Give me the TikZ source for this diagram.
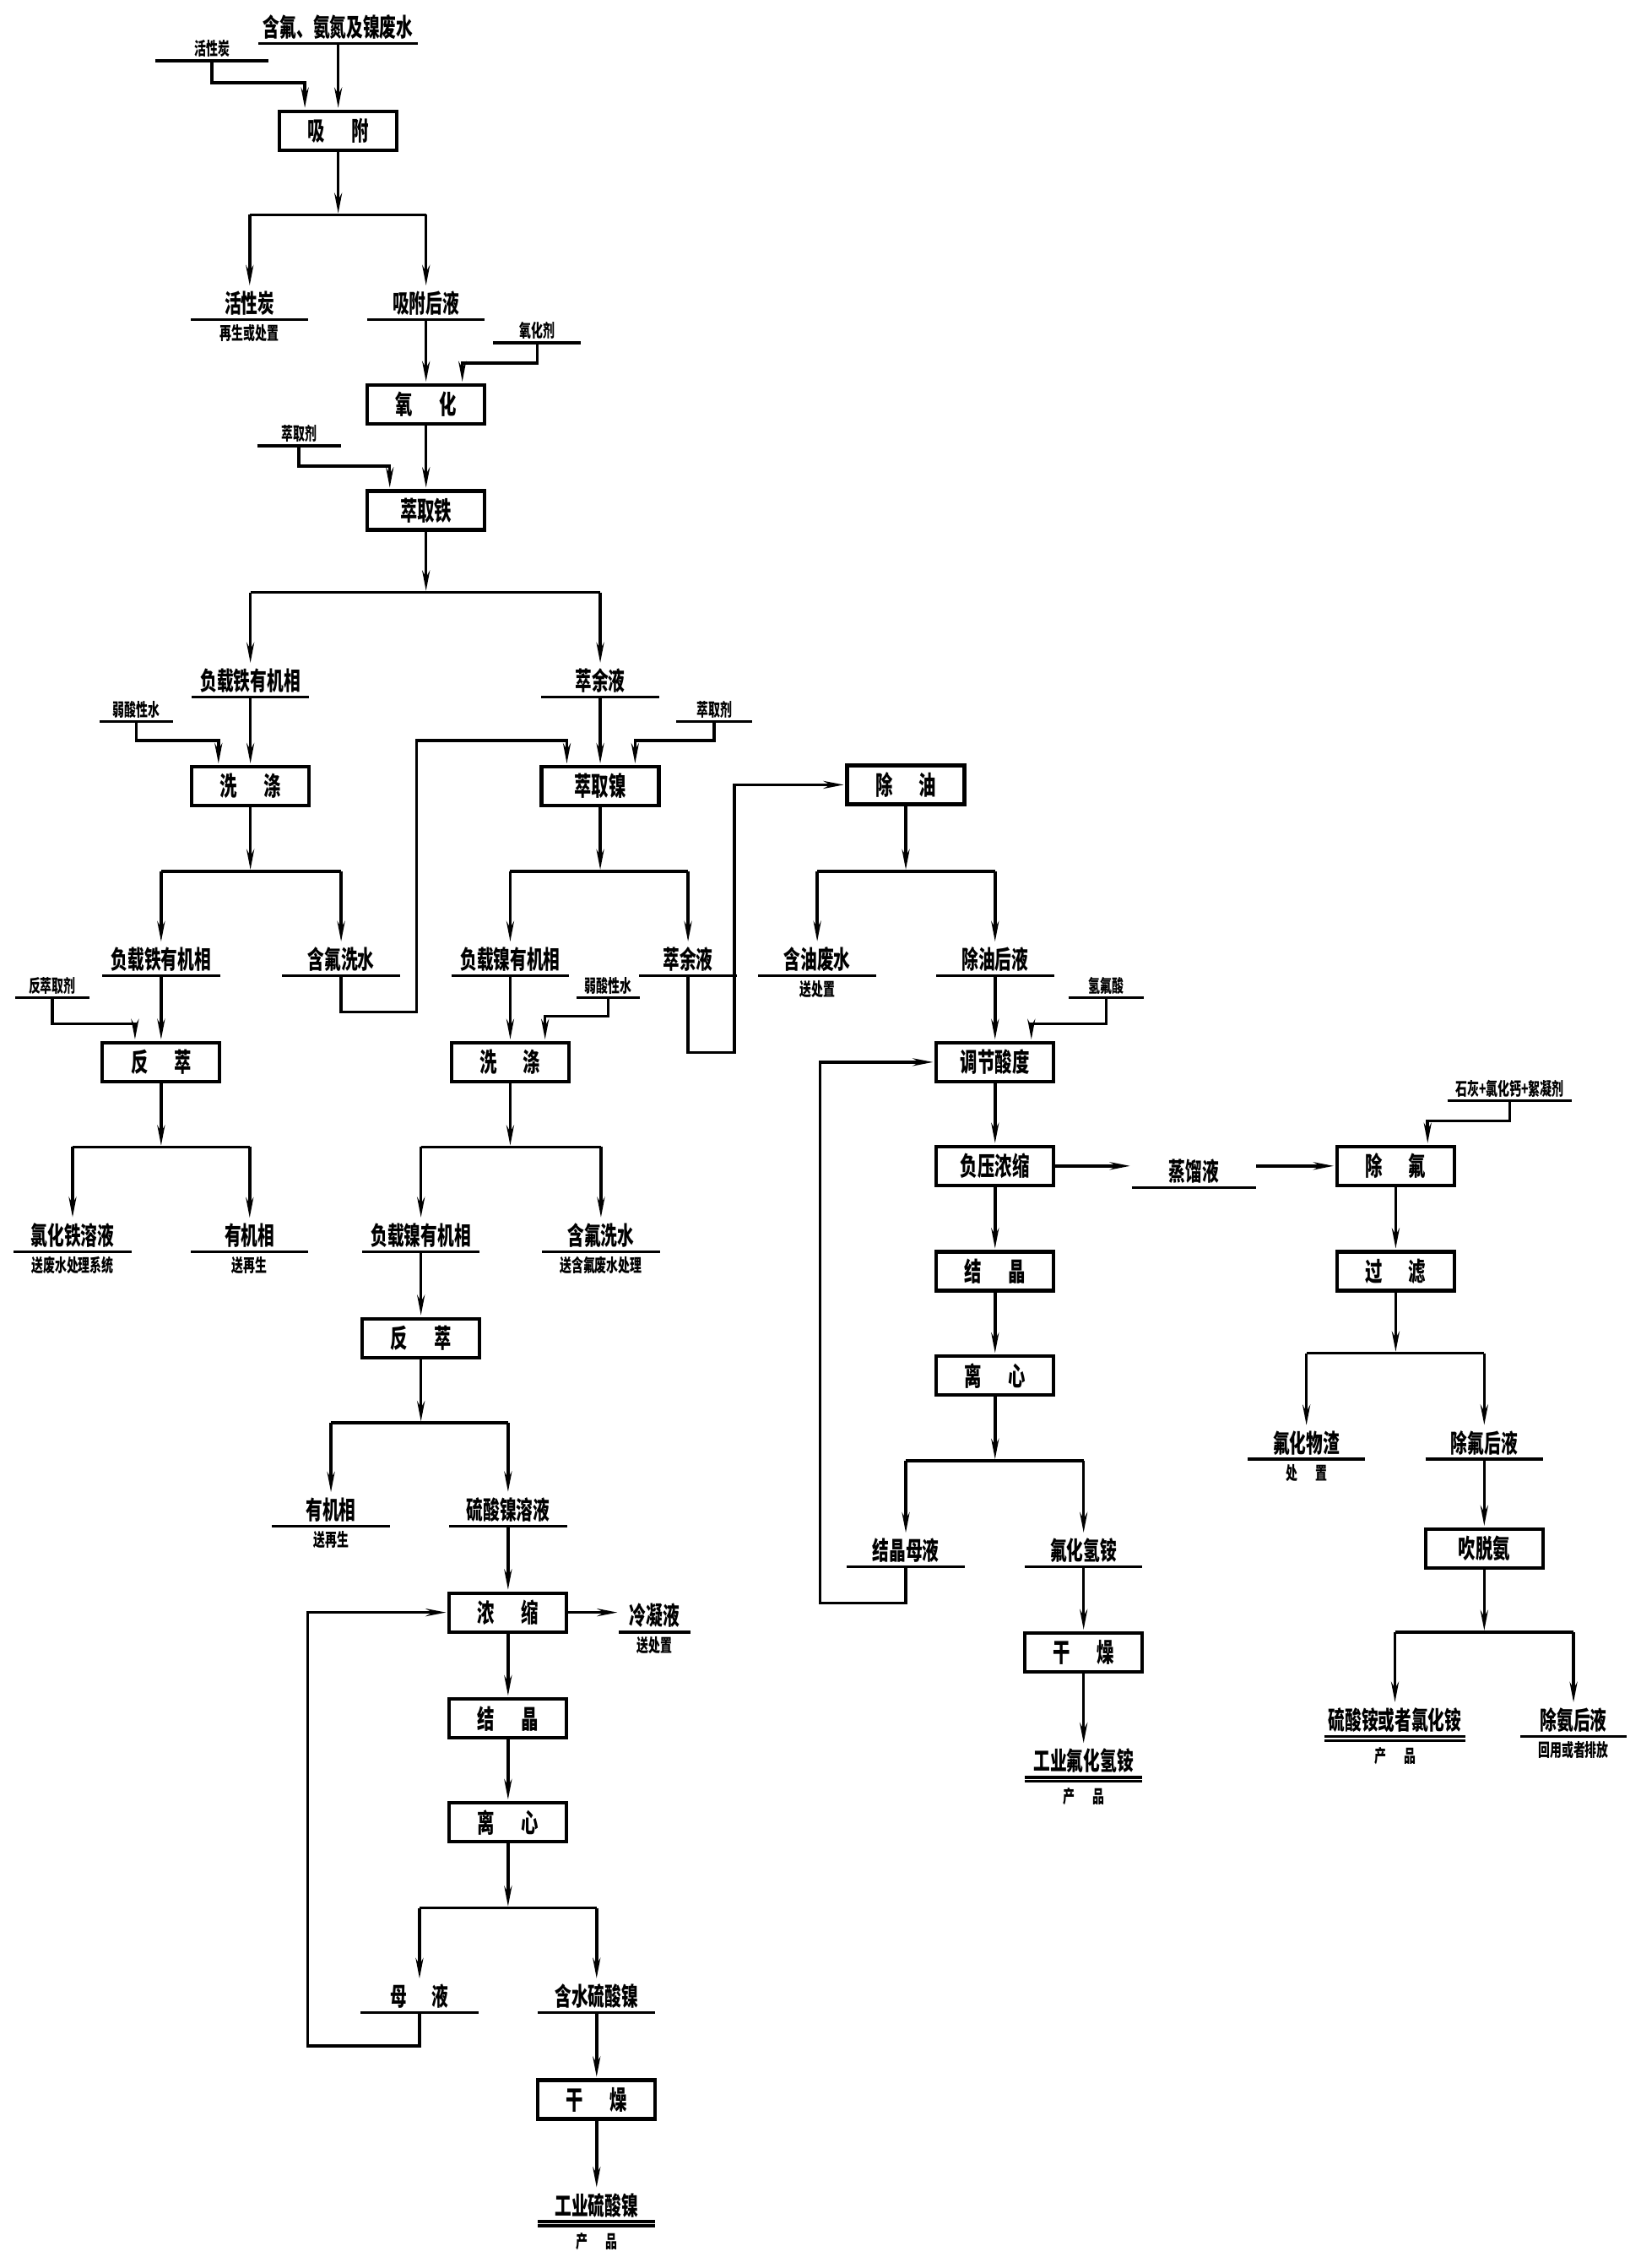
\documentclass[tikz,border=0pt]{standalone}
\usepackage{fontspec}
\setmainfont{Noto Sans CJK SC}[FakeStretch=0.66]
\usetikzlibrary{arrows.meta,positioning,calc}

\begin{document}
\begin{tikzpicture}[x=0.017195cm, y=-0.017195cm]
    % Define styles
    \tikzset{
        proc/.style={
            draw,
            line width=1.2pt,
            minimum width=1.39cm,
            minimum height=0.46cm,
            inner sep=0pt,
            font=\fontsize{8.8}{9}\selectfont\bfseries
        },
        stream/.style={
            anchor=south,
            minimum width=1.38cm,
            inner sep=1.2pt,
            font=\fontsize{8.5}{9}\selectfont\bfseries
        },
        agent/.style={
            anchor=south,
            minimum width=0.88cm,
            inner sep=1pt,
            font=\fontsize{6}{6.5}\selectfont\bfseries
        },
        note/.style={
            inner sep=1pt,
            font=\fontsize{6}{6.5}\selectfont\bfseries
        },
        pipe/.style={line width=1pt},
        arrow/.style={
            -{Stealth[length=2.4mm, width=0.9mm]},
            line width=1pt,
            shorten >=0.5pt
        }
    }
    \useasboundingbox (0,0) rectangle (1130,1562);

    % Adsorption
    \node[stream, minimum width=1.87cm] (feed) at (233,30) {含氟、氨氮及镍废水};
    \node[agent, minimum width=1.32cm] (hxtin) at (146,42) {活性炭};
    \node[proc] (xifu) at (233,90) {吸\quad 附};
    \node[stream] (hxt) at (172,220) {活性炭};
    \node[note, below=0.5pt of hxt] (hxtn) {再生或处置};
    \node[stream] (xfhy) at (293.5,220) {吸附后液};

    \draw[arrow] (feed.south) -- (xifu.north);
    \draw[arrow] (hxtin.south) -- ++(0,15) -| ($(xifu.north)+(-23,0)$);
    \coordinate (xifu-j) at (233,148);
    \draw[arrow] (xifu.south) -- (xifu-j);
    \draw[pipe] (hxt |- xifu-j) -- (xfhy |- xifu-j);
    \draw[arrow] (hxt |- xifu-j) -- (hxt.north);
    \draw[arrow] (xfhy |- xifu-j) -- (xfhy.north);

    % Oxidation and iron extraction
    \node[agent, minimum width=1.03cm] (yhj) at (370,236) {氧化剂};
    \node[proc] (yanghua) at (293.5,278.5) {氧\quad 化};
    \node[agent, minimum width=0.98cm] (cqj1) at (206,307) {萃取剂};
    \node[proc] (cqt) at (293.5,351.5) {萃取铁};
    \node[stream] (fzt1) at (172.5,480) {负载铁有机相};
    \node[stream] (cyy1) at (413.5,480) {萃余液};

    \draw[arrow] (xfhy.south) -- (yanghua.north);
    \draw[arrow] (yhj.south) -- ++(0,14) -| ($(yanghua.north)+(25,0)$);
    \draw[arrow] (yanghua.south) -- (cqt.north);
    \draw[arrow] (cqj1.south) -- ++(0,14) -| ($(cqt.north)+(-25,0)$);
    \coordinate (cqt-j) at (293.5,408);
    \draw[arrow] (cqt.south) -- (cqt-j);
    \draw[pipe] (fzt1 |- cqt-j) -- (cyy1 |- cqt-j);
    \draw[arrow] (fzt1 |- cqt-j) -- (fzt1.north);
    \draw[arrow] (cyy1 |- cqt-j) -- (cyy1.north);

    % Washing of loaded iron phase
    \node[agent, minimum width=0.86cm] (rsx1) at (94,497) {弱酸性水};
    \node[proc] (xidi1) at (172.5,541.5) {洗\quad 涤};
    \node[stream] (fzt2) at (111,672) {负载铁有机相};
    \node[stream] (hfxs1) at (235,672) {含氟洗水};

    \draw[arrow] (fzt1.south) -- (xidi1.north);
    \draw[arrow] (rsx1.south) -- ++(0,13) -| ($(xidi1.north)+(-22,0)$);
    \coordinate (xidi1-j) at (172.5,600);
    \draw[arrow] (xidi1.south) -- (xidi1-j);
    \draw[pipe] (fzt2 |- xidi1-j) -- (hfxs1 |- xidi1-j);
    \draw[arrow] (fzt2 |- xidi1-j) -- (fzt2.north);
    \draw[arrow] (hfxs1 |- xidi1-j) -- (hfxs1.north);

    % Nickel extraction
    \node[agent, minimum width=0.88cm] (cqj2) at (492,497) {萃取剂};
    \node[proc] (cqn) at (413.5,541.5) {萃取镍};
    \node[stream] (fzn1) at (351.5,672) {负载镍有机相};
    \node[stream, minimum width=1.14cm] (cyy2) at (474,672) {萃余液};

    \draw[arrow] (cyy1.south) -- (cqn.north);
    \draw[arrow] (cqj2.south) -- ++(0,13) -| ($(cqn.north)+(24,0)$);
    \draw[arrow] (hfxs1.south) |- (287,697) -- (287,510) -| ($(cqn.north)+(-23,0)$);
    \coordinate (cqn-j) at (413.5,600);
    \draw[arrow] (cqn.south) -- (cqn-j);
    \draw[pipe] (fzn1 |- cqn-j) -- (cyy2 |- cqn-j);
    \draw[arrow] (fzn1 |- cqn-j) -- (fzn1.north);
    \draw[arrow] (cyy2 |- cqn-j) -- (cyy2.north);

    % Oil removal
    \node[proc] (chuyou) at (624,540.5) {除\quad 油};
    \node[stream] (hyfs) at (563,672) {含油废水};
    \node[note, below=0.5pt of hyfs] (hyfsn) {送处置};
    \node[stream] (cyhy) at (685.5,672) {除油后液};

    \draw[arrow] (cyy2.south) |- (506,725) |- (chuyou.west);
    \coordinate (chuyou-j) at (624,600);
    \draw[arrow] (chuyou.south) -- (chuyou-j);
    \draw[pipe] (hyfs |- chuyou-j) -- (cyhy |- chuyou-j);
    \draw[arrow] (hyfs |- chuyou-j) -- (hyfs.north);
    \draw[arrow] (cyhy |- chuyou-j) -- (cyhy.north);

    % Iron stripping
    \node[agent, minimum width=0.86cm] (fcj) at (36,687) {反萃取剂};
    \node[proc] (fc1) at (111,731.5) {反\quad 萃};
    \node[stream] (lht) at (50,862) {氯化铁溶液};
    \node[note, below=0.5pt of lht] (lhtn) {送废水处理系统};
    \node[stream] (yjx1) at (172,862) {有机相};
    \node[note, below=0.5pt of yjx1] (yjx1n) {送再生};

    \draw[arrow] (fzt2.south) -- (fc1.north);
    \draw[arrow] (fcj.south) -- ++(0,18) -| ($(fc1.north)+(-18,0)$);
    \coordinate (fc1-j) at (111,790);
    \draw[arrow] (fc1.south) -- (fc1-j);
    \draw[pipe] (lht |- fc1-j) -- (yjx1 |- fc1-j);
    \draw[arrow] (lht |- fc1-j) -- (lht.north);
    \draw[arrow] (yjx1 |- fc1-j) -- (yjx1.north);

    % Washing of loaded nickel phase
    \node[agent, minimum width=0.74cm] (rsx2) at (419,687) {弱酸性水};
    \node[proc] (xidi2) at (351.5,731.5) {洗\quad 涤};
    \node[stream] (fzn2) at (290,862) {负载镍有机相};
    \node[stream] (hfxs2) at (414,862) {含氟洗水};
    \node[note, below=0.5pt of hfxs2] (hfxs2n) {送含氟废水处理};

    \draw[arrow] (fzn1.south) -- (xidi2.north);
    \draw[arrow] (rsx2.south) -- ++(0,13) -| ($(xidi2.north)+(24,0)$);
    \coordinate (xidi2-j) at (351.5,790);
    \draw[arrow] (xidi2.south) -- (xidi2-j);
    \draw[pipe] (fzn2 |- xidi2-j) -- (hfxs2 |- xidi2-j);
    \draw[arrow] (fzn2 |- xidi2-j) -- (fzn2.north);
    \draw[arrow] (hfxs2 |- xidi2-j) -- (hfxs2.north);

    % Nickel stripping
    \node[proc] (fc2) at (290,921.5) {反\quad 萃};
    \node[stream] (yjx2) at (228,1051) {有机相};
    \node[note, below=0.5pt of yjx2] (yjx2n) {送再生};
    \node[stream] (lsn) at (350,1051) {硫酸镍溶液};

    \draw[arrow] (fzn2.south) -- (fc2.north);
    \coordinate (fc2-j) at (290,980);
    \draw[arrow] (fc2.south) -- (fc2-j);
    \draw[pipe] (yjx2 |- fc2-j) -- (lsn |- fc2-j);
    \draw[arrow] (yjx2 |- fc2-j) -- (yjx2.north);
    \draw[arrow] (lsn |- fc2-j) -- (lsn.north);

    % Nickel sulfate product
    \node[proc] (nongsuo) at (350,1110.5) {浓\quad 缩};
    \node[stream, minimum width=0.83cm] (lny) at (451,1124) {冷凝液};
    \node[note, below=0.5pt of lny] (lnyn) {送处置};
    \node[proc] (jj1) at (350,1183.5) {结\quad 晶};
    \node[proc] (lx1) at (350,1255) {离\quad 心};
    \node[stream] (muye) at (289,1386) {母\quad 液};
    \node[stream] (hslsn) at (411,1386) {含水硫酸镍};
    \node[proc] (gz1) at (411,1446) {干\quad 燥};
    \node[stream] (gylsn) at (411,1530) {工业硫酸镍};
    \node[note, below=2.5pt of gylsn] (gylsnn) {产\quad 品};

    \draw[arrow] (lsn.south) -- (nongsuo.north);
    \draw[arrow] (nongsuo.east) -- (nongsuo.east -| lny.west);
    \draw[arrow] (nongsuo.south) -- (jj1.north);
    \draw[arrow] (jj1.south) -- (lx1.north);
    \coordinate (lx1-j) at (350,1314);
    \draw[arrow] (lx1.south) -- (lx1-j);
    \draw[pipe] (muye |- lx1-j) -- (hslsn |- lx1-j);
    \draw[arrow] (muye |- lx1-j) -- (muye.north);
    \draw[arrow] (hslsn |- lx1-j) -- (hslsn.north);
    \draw[arrow] (muye.south) |- (212,1409) |- (nongsuo.west);
    \draw[arrow] (hslsn.south) -- (gz1.north);
    \draw[arrow] (gz1.south) -- (gylsn.north);

    % Ammonium bifluoride product
    \node[agent, minimum width=0.88cm] (hff) at (762,687) {氢氟酸};
    \node[proc] (tjsd) at (685.5,731.5) {调节酸度};
    \node[proc] (fyns) at (685.5,803) {负压浓缩};
    \node[proc] (jj2) at (685.5,875.5) {结\quad 晶};
    \node[proc] (lx2) at (685.5,947.5) {离\quad 心};
    \node[stream] (jjmy) at (624,1079) {结晶母液};
    \node[stream] (fhqa) at (746.5,1079) {氟化氢铵};
    \node[proc] (gz2) at (746.5,1138) {干\quad 燥};
    \node[stream] (gyfhqa) at (746.5,1224) {工业氟化氢铵};
    \node[note, below=2.5pt of gyfhqa] (gyfhqan) {产\quad 品};

    \draw[arrow] (cyhy.south) -- (tjsd.north);
    \draw[arrow] (hff.south) -- ++(0,18) -| ($(tjsd.north)+(25,0)$);
    \draw[arrow] (tjsd.south) -- (fyns.north);
    \draw[arrow] (fyns.south) -- (jj2.north);
    \draw[arrow] (jj2.south) -- (lx2.north);
    \coordinate (lx2-j) at (685.5,1006);
    \draw[arrow] (lx2.south) -- (lx2-j);
    \draw[pipe] (jjmy |- lx2-j) -- (fhqa |- lx2-j);
    \draw[arrow] (jjmy |- lx2-j) -- (jjmy.north);
    \draw[arrow] (fhqa |- lx2-j) -- (fhqa.north);
    \draw[arrow] (jjmy.south) |- (565,1104) |- (tjsd.west);
    \draw[arrow] (fhqa.south) -- (gz2.north);
    \draw[arrow] (gz2.south) -- (gyfhqa.north);

    % Distillate treatment
    \node[stream, minimum width=1.46cm] (zly) at (822.5,818) {蒸馏液};
    \node[agent, minimum width=1.46cm] (shj) at (1040,758) {石灰+氯化钙+絮凝剂};
    \node[proc] (chuf) at (961.5,803) {除\quad 氟};
    \node[proc] (guolv) at (961.5,875.5) {过\quad 滤};
    \node[stream] (fhwz) at (900,1005) {氟化物渣};
    \node[note, below=0.5pt of fhwz] (fhwzn) {处\quad 置};
    \node[stream] (cfhy) at (1022.5,1005) {除氟后液};
    \node[proc] (ctan) at (1022.5,1066.5) {吹脱氨};
    \node[stream, minimum width=1.63cm] (lsa) at (961,1196) {硫酸铵或者氯化铵};
    \node[note, below=2.5pt of lsa] (lsan) {产\quad 品};
    \node[stream, minimum width=1.24cm] (cahy) at (1084,1196) {除氨后液};
    \node[note, below=0.5pt of cahy] (cahyn) {回用或者排放};

    \draw[arrow] (fyns.east) -- (fyns.east -| zly.west);
    \draw[arrow] (fyns.east -| zly.east) -- (chuf.west);
    \draw[arrow] (shj.south) -- ++(0,14) -| ($(chuf.north)+(22,0)$);
    \draw[arrow] (chuf.south) -- (guolv.north);
    \coordinate (guolv-j) at (961.5,932);
    \draw[arrow] (guolv.south) -- (guolv-j);
    \draw[pipe] (fhwz |- guolv-j) -- (cfhy |- guolv-j);
    \draw[arrow] (fhwz |- guolv-j) -- (fhwz.north);
    \draw[arrow] (cfhy |- guolv-j) -- (cfhy.north);
    \draw[arrow] (cfhy.south) -- (ctan.north);
    \coordinate (ctan-j) at (1022.5,1124);
    \draw[arrow] (ctan.south) -- (ctan-j);
    \draw[pipe] (lsa |- ctan-j) -- (cahy |- ctan-j);
    \draw[arrow] (lsa |- ctan-j) -- (lsa.north);
    \draw[arrow] (cahy |- ctan-j) -- (cahy.north);

    % Underlines of the streams
    \foreach \n in {feed, hxtin, hxt, xfhy, yhj, cqj1, fzt1, cyy1, rsx1, fzt2, hfxs1,
                    cqj2, fzn1, cyy2, hyfs, cyhy, fcj, lht, yjx1, rsx2, fzn2, hfxs2,
                    yjx2, lsn, lny, muye, hslsn, gylsn, hff, jjmy, fhqa, gyfhqa,
                    zly, shj, fhwz, cfhy, lsa, cahy}
        \draw[pipe] (\n.south west) -- (\n.south east);
    \foreach \n in {gylsn, gyfhqa, lsa}
        \draw[pipe] ([yshift=-1.4pt]\n.south west) -- ([yshift=-1.4pt]\n.south east);

\end{tikzpicture}
\end{document}
